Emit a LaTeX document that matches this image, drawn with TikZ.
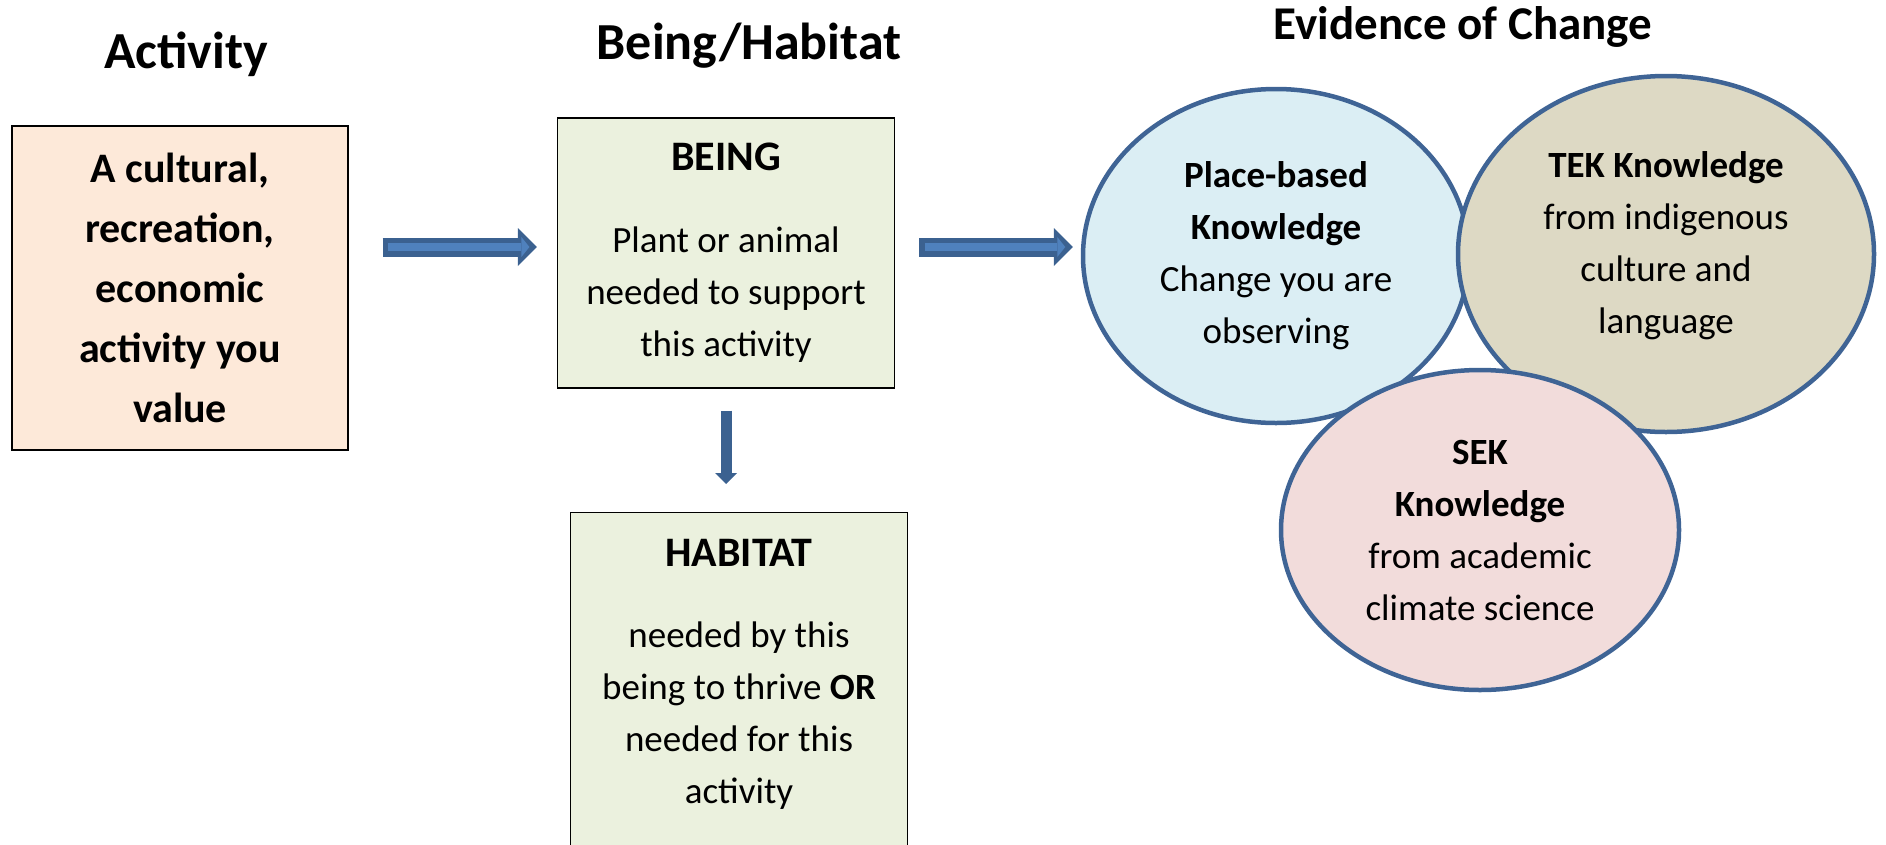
\documentclass[tikz,border=0pt]{standalone}
\usepackage{fontspec}
\setmainfont{Carlito}
\usepackage{tikz}
\usetikzlibrary{shapes.geometric, arrows.meta}

\definecolor{arrowdark}{HTML}{3B6190}
\definecolor{arrowlight}{HTML}{4F81BD}
\definecolor{ringblue}{HTML}{3F6495}
\definecolor{peach}{HTML}{FDE9D9}
\definecolor{sage}{HTML}{EBF1DE}
\definecolor{skyblue}{HTML}{DBEEF4}
\definecolor{khaki}{HTML}{DDD9C4}
\definecolor{rose}{HTML}{F2DCDB}

\newcommand{\boxhead}[1]{\textbf{\fontsize{42}{52}\selectfont #1}}

\begin{document}
\begin{tikzpicture}[x=1pt, y=-1pt]
  \tikzset{
    box/.style={draw, rectangle, line width=1.2pt, inner sep=0pt, align=center, minimum width=337pt},
    bodytext/.style={font=\fontsize{37}{52}\selectfont},
    heading/.style={font=\fontsize{52}{60}\selectfont\bfseries},
    bubble/.style={ellipse, draw=ringblue, line width=4.5pt, inner sep=0pt, align=center, font=\fontsize{37}{52}\selectfont},
    bigarrow/.style={draw=arrowdark, line width=19pt, -{Triangle[width=38pt, length=19pt, line width=0pt]},
      postaction={draw=arrowlight, line width=8pt, shorten <=5.5pt, shorten >=7.5pt, -{Triangle[width=20pt, length=8pt, line width=0pt]}}},
    downarrow/.style={draw=arrowdark, line width=11pt, -{Triangle[width=22pt, length=11pt, line width=0pt]}}
  }
  \clip (0,0) rectangle (1886,844);

  % Column headings
  \node[heading] (act-title) at (186,54) {Activity};
  \node[heading] (being-title) at (749,46) {Being/Habitat};
  \node[heading, font=\fontsize{47}{56}\selectfont\bfseries] (change-title) at (1463,27) {Evidence of Change};

  % Boxes
  \node[box, fill=peach, minimum width=336pt, minimum height=324pt, font=\fontsize{42}{60}\selectfont\bfseries] (act) at (180,288) {A cultural,\\recreation,\\economic\\activity you\\value};
  \node[box, fill=sage, minimum height=270pt, bodytext] (being) at (726,253) {\boxhead{BEING}\\[30pt]Plant or animal\\needed to support\\this activity};
  \node[box, fill=sage, anchor=north, minimum height=360pt] (habitat) at (739,512) {};
  \node[bodytext, align=center, anchor=north] (habitat-text) at ([yshift=-23.7pt]habitat.north) {\boxhead{HABITAT}\\[29pt]needed by this\\being to thrive \textbf{OR}\\needed for this\\activity};

  % Knowledge circles
  \node[bubble, fill=skyblue, minimum width=386pt, minimum height=334pt] (place) at (1276,256) {\textbf{Place-based}\\\textbf{Knowledge}\\Change you are\\observing};
  \node[bubble, fill=khaki, minimum width=416pt, minimum height=356pt] (tek) at (1666,254) {\textbf{TEK Knowledge}\\from indigenous\\culture and\\language\rule[-23pt]{0pt}{1pt}};
  \node[bubble, fill=rose, minimum width=398pt, minimum height=320pt] (sek) at (1480,530) {\textbf{SEK}\\\textbf{Knowledge}\\from academic\\climate science};

  % Arrows
  \coordinate (a1) at ([yshift=6pt]being.west);
  \coordinate (a2) at ([yshift=6pt]being.east);
  \draw[bigarrow] ([xshift=34pt]act.east |- a1) -- ([xshift=-20pt]a1);
  \draw[bigarrow] ([xshift=24pt]a2) -- ([xshift=-8pt]place.west |- a2);
  \draw[downarrow] ([yshift=-22pt]being.south) -- ([yshift=28pt]habitat.north -| being.south);

\end{tikzpicture}
\end{document}
